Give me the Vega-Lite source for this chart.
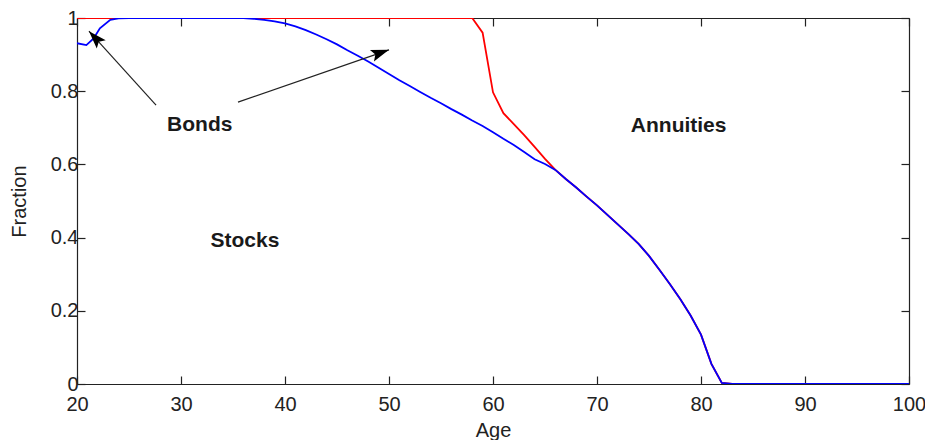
{
  "$schema": "https://vega.github.io/schema/vega-lite/v6.json",
  "width": 832,
  "height": 366,
  "autosize": {"type": "none"},
  "padding": {"left": 77, "top": 18, "right": 16, "bottom": 56},
  "background": "white",
  "config": {
    "view": {"stroke": null},
    "font": "Liberation Sans",
    "axis": {
      "grid": false,
      "domainColor": "#222",
      "domainWidth": 1.2,
      "tickColor": "#222",
      "tickWidth": 1.2,
      "tickSize": -8,
      "labelFont": "Liberation Sans",
      "labelFontSize": 20,
      "labelColor": "#222",
      "titleFont": "Liberation Sans",
      "titleFontSize": 20,
      "titleFontWeight": "normal",
      "titleColor": "#222",
      "labelFlush": false,
      "labelOverlap": false
    }
  },
  "datasets": {
    "lines": [
      {"age": 20, "series": "Stocks + Bonds", "fraction": 1}, {"age": 21, "series": "Stocks + Bonds", "fraction": 1},
      {"age": 22, "series": "Stocks + Bonds", "fraction": 1}, {"age": 23, "series": "Stocks + Bonds", "fraction": 1},
      {"age": 24, "series": "Stocks + Bonds", "fraction": 1}, {"age": 25, "series": "Stocks + Bonds", "fraction": 1},
      {"age": 26, "series": "Stocks + Bonds", "fraction": 1}, {"age": 27, "series": "Stocks + Bonds", "fraction": 1},
      {"age": 28, "series": "Stocks + Bonds", "fraction": 1}, {"age": 29, "series": "Stocks + Bonds", "fraction": 1},
      {"age": 30, "series": "Stocks + Bonds", "fraction": 1}, {"age": 31, "series": "Stocks + Bonds", "fraction": 1},
      {"age": 32, "series": "Stocks + Bonds", "fraction": 1}, {"age": 33, "series": "Stocks + Bonds", "fraction": 1},
      {"age": 34, "series": "Stocks + Bonds", "fraction": 1}, {"age": 35, "series": "Stocks + Bonds", "fraction": 1},
      {"age": 36, "series": "Stocks + Bonds", "fraction": 1}, {"age": 37, "series": "Stocks + Bonds", "fraction": 1},
      {"age": 38, "series": "Stocks + Bonds", "fraction": 1}, {"age": 39, "series": "Stocks + Bonds", "fraction": 1},
      {"age": 40, "series": "Stocks + Bonds", "fraction": 1}, {"age": 41, "series": "Stocks + Bonds", "fraction": 1},
      {"age": 42, "series": "Stocks + Bonds", "fraction": 1}, {"age": 43, "series": "Stocks + Bonds", "fraction": 1},
      {"age": 44, "series": "Stocks + Bonds", "fraction": 1}, {"age": 45, "series": "Stocks + Bonds", "fraction": 1},
      {"age": 46, "series": "Stocks + Bonds", "fraction": 1}, {"age": 47, "series": "Stocks + Bonds", "fraction": 1},
      {"age": 48, "series": "Stocks + Bonds", "fraction": 1}, {"age": 49, "series": "Stocks + Bonds", "fraction": 1},
      {"age": 50, "series": "Stocks + Bonds", "fraction": 1}, {"age": 51, "series": "Stocks + Bonds", "fraction": 1},
      {"age": 52, "series": "Stocks + Bonds", "fraction": 1}, {"age": 53, "series": "Stocks + Bonds", "fraction": 1},
      {"age": 54, "series": "Stocks + Bonds", "fraction": 1}, {"age": 55, "series": "Stocks + Bonds", "fraction": 1},
      {"age": 56, "series": "Stocks + Bonds", "fraction": 1}, {"age": 57, "series": "Stocks + Bonds", "fraction": 1},
      {"age": 58, "series": "Stocks + Bonds", "fraction": 1}, {"age": 59, "series": "Stocks + Bonds", "fraction": 0.96},
      {"age": 60, "series": "Stocks + Bonds", "fraction": 0.797}, {"age": 61, "series": "Stocks + Bonds", "fraction": 0.74},
      {"age": 62, "series": "Stocks + Bonds", "fraction": 0.71}, {"age": 63, "series": "Stocks + Bonds", "fraction": 0.68},
      {"age": 64, "series": "Stocks + Bonds", "fraction": 0.648}, {"age": 65, "series": "Stocks + Bonds", "fraction": 0.615},
      {"age": 66, "series": "Stocks + Bonds", "fraction": 0.585}, {"age": 67, "series": "Stocks + Bonds", "fraction": 0.56},
      {"age": 68, "series": "Stocks + Bonds", "fraction": 0.537}, {"age": 69, "series": "Stocks + Bonds", "fraction": 0.512},
      {"age": 70, "series": "Stocks + Bonds", "fraction": 0.488}, {"age": 71, "series": "Stocks + Bonds", "fraction": 0.462},
      {"age": 72, "series": "Stocks + Bonds", "fraction": 0.436}, {"age": 73, "series": "Stocks + Bonds", "fraction": 0.41},
      {"age": 74, "series": "Stocks + Bonds", "fraction": 0.383}, {"age": 75, "series": "Stocks + Bonds", "fraction": 0.35},
      {"age": 76, "series": "Stocks + Bonds", "fraction": 0.312}, {"age": 77, "series": "Stocks + Bonds", "fraction": 0.273},
      {"age": 78, "series": "Stocks + Bonds", "fraction": 0.232}, {"age": 79, "series": "Stocks + Bonds", "fraction": 0.187},
      {"age": 80, "series": "Stocks + Bonds", "fraction": 0.135}, {"age": 81, "series": "Stocks + Bonds", "fraction": 0.055},
      {"age": 82, "series": "Stocks + Bonds", "fraction": 0.003}, {"age": 83, "series": "Stocks + Bonds", "fraction": 0},
      {"age": 84, "series": "Stocks + Bonds", "fraction": 0}, {"age": 85, "series": "Stocks + Bonds", "fraction": 0},
      {"age": 86, "series": "Stocks + Bonds", "fraction": 0}, {"age": 87, "series": "Stocks + Bonds", "fraction": 0},
      {"age": 88, "series": "Stocks + Bonds", "fraction": 0}, {"age": 89, "series": "Stocks + Bonds", "fraction": 0},
      {"age": 90, "series": "Stocks + Bonds", "fraction": 0}, {"age": 91, "series": "Stocks + Bonds", "fraction": 0},
      {"age": 92, "series": "Stocks + Bonds", "fraction": 0}, {"age": 93, "series": "Stocks + Bonds", "fraction": 0},
      {"age": 94, "series": "Stocks + Bonds", "fraction": 0}, {"age": 95, "series": "Stocks + Bonds", "fraction": 0},
      {"age": 96, "series": "Stocks + Bonds", "fraction": 0}, {"age": 97, "series": "Stocks + Bonds", "fraction": 0},
      {"age": 98, "series": "Stocks + Bonds", "fraction": 0}, {"age": 99, "series": "Stocks + Bonds", "fraction": 0},
      {"age": 100, "series": "Stocks + Bonds", "fraction": 0},
      {"age": 20, "series": "Stocks", "fraction": 0.931}, {"age": 20.9, "series": "Stocks", "fraction": 0.926},
      {"age": 21.6, "series": "Stocks", "fraction": 0.944}, {"age": 22.2, "series": "Stocks", "fraction": 0.972},
      {"age": 23.2, "series": "Stocks", "fraction": 0.995}, {"age": 24, "series": "Stocks", "fraction": 0.999},
      {"age": 25, "series": "Stocks", "fraction": 1}, {"age": 26, "series": "Stocks", "fraction": 1},
      {"age": 27, "series": "Stocks", "fraction": 1}, {"age": 28, "series": "Stocks", "fraction": 1},
      {"age": 29, "series": "Stocks", "fraction": 1}, {"age": 30, "series": "Stocks", "fraction": 1},
      {"age": 31, "series": "Stocks", "fraction": 1}, {"age": 32, "series": "Stocks", "fraction": 1},
      {"age": 33, "series": "Stocks", "fraction": 1}, {"age": 34, "series": "Stocks", "fraction": 1},
      {"age": 35, "series": "Stocks", "fraction": 1}, {"age": 36, "series": "Stocks", "fraction": 1},
      {"age": 37, "series": "Stocks", "fraction": 0.998}, {"age": 38, "series": "Stocks", "fraction": 0.995},
      {"age": 39, "series": "Stocks", "fraction": 0.991}, {"age": 40, "series": "Stocks", "fraction": 0.985},
      {"age": 41, "series": "Stocks", "fraction": 0.977}, {"age": 42, "series": "Stocks", "fraction": 0.967},
      {"age": 43, "series": "Stocks", "fraction": 0.955}, {"age": 44, "series": "Stocks", "fraction": 0.942},
      {"age": 45, "series": "Stocks", "fraction": 0.928}, {"age": 46, "series": "Stocks", "fraction": 0.912},
      {"age": 47, "series": "Stocks", "fraction": 0.897}, {"age": 48, "series": "Stocks", "fraction": 0.881},
      {"age": 49, "series": "Stocks", "fraction": 0.864}, {"age": 50, "series": "Stocks", "fraction": 0.847},
      {"age": 51, "series": "Stocks", "fraction": 0.83}, {"age": 52, "series": "Stocks", "fraction": 0.814},
      {"age": 53, "series": "Stocks", "fraction": 0.798}, {"age": 54, "series": "Stocks", "fraction": 0.782},
      {"age": 55, "series": "Stocks", "fraction": 0.767}, {"age": 56, "series": "Stocks", "fraction": 0.751},
      {"age": 57, "series": "Stocks", "fraction": 0.736}, {"age": 58, "series": "Stocks", "fraction": 0.72},
      {"age": 59, "series": "Stocks", "fraction": 0.705}, {"age": 60, "series": "Stocks", "fraction": 0.688},
      {"age": 61, "series": "Stocks", "fraction": 0.67}, {"age": 62, "series": "Stocks", "fraction": 0.653},
      {"age": 63, "series": "Stocks", "fraction": 0.634}, {"age": 64, "series": "Stocks", "fraction": 0.614},
      {"age": 65, "series": "Stocks", "fraction": 0.601}, {"age": 66, "series": "Stocks", "fraction": 0.585},
      {"age": 67, "series": "Stocks", "fraction": 0.56}, {"age": 68, "series": "Stocks", "fraction": 0.537},
      {"age": 69, "series": "Stocks", "fraction": 0.512}, {"age": 70, "series": "Stocks", "fraction": 0.488},
      {"age": 71, "series": "Stocks", "fraction": 0.462}, {"age": 72, "series": "Stocks", "fraction": 0.436},
      {"age": 73, "series": "Stocks", "fraction": 0.41}, {"age": 74, "series": "Stocks", "fraction": 0.383},
      {"age": 75, "series": "Stocks", "fraction": 0.35}, {"age": 76, "series": "Stocks", "fraction": 0.312},
      {"age": 77, "series": "Stocks", "fraction": 0.273}, {"age": 78, "series": "Stocks", "fraction": 0.232},
      {"age": 79, "series": "Stocks", "fraction": 0.187}, {"age": 80, "series": "Stocks", "fraction": 0.135},
      {"age": 81, "series": "Stocks", "fraction": 0.055}, {"age": 82, "series": "Stocks", "fraction": 0.003},
      {"age": 83, "series": "Stocks", "fraction": 0}, {"age": 84, "series": "Stocks", "fraction": 0},
      {"age": 85, "series": "Stocks", "fraction": 0}, {"age": 86, "series": "Stocks", "fraction": 0},
      {"age": 87, "series": "Stocks", "fraction": 0}, {"age": 88, "series": "Stocks", "fraction": 0},
      {"age": 89, "series": "Stocks", "fraction": 0}, {"age": 90, "series": "Stocks", "fraction": 0},
      {"age": 91, "series": "Stocks", "fraction": 0}, {"age": 92, "series": "Stocks", "fraction": 0},
      {"age": 93, "series": "Stocks", "fraction": 0}, {"age": 94, "series": "Stocks", "fraction": 0},
      {"age": 95, "series": "Stocks", "fraction": 0}, {"age": 96, "series": "Stocks", "fraction": 0},
      {"age": 97, "series": "Stocks", "fraction": 0}, {"age": 98, "series": "Stocks", "fraction": 0},
      {"age": 99, "series": "Stocks", "fraction": 0}, {"age": 100, "series": "Stocks", "fraction": 0}
    ],
    "labels": [
      {"label": "Bonds", "age": 31.8, "fraction": 0.708},
      {"label": "Stocks", "age": 36.15, "fraction": 0.391},
      {"label": "Annuities", "age": 77.85, "fraction": 0.706}
    ],
    "arrows": [
      {"arrow": "left", "age": 27.6, "fraction": 0.762, "age_end": 21.15, "fraction_end": 0.964},
      {"arrow": "right", "age": 35.48, "fraction": 0.77, "age_end": 50.0, "fraction_end": 0.913}
    ]
  },
  "resolve": {"axis": {"x": "independent", "y": "independent"}},
  "layer": [
    {
      "data": {"name": "lines"},
      "transform": [{"filter": "datum.series === 'Stocks + Bonds'"}],
      "mark": {"type": "line", "color": "#ff0000", "strokeWidth": 1.8, "clip": true},
      "encoding": {
        "x": {"field": "age", "type": "quantitative", "scale": {"domain": [20, 100], "nice": false, "zero": false},
              "axis": {"orient": "bottom", "title": "Age", "values": [20, 30, 40, 50, 60, 70, 80, 90, 100], "labelPadding": 18, "titlePadding": 6}},
        "y": {"field": "fraction", "type": "quantitative", "scale": {"domain": [0, 1], "nice": false},
              "axis": {"orient": "left", "title": "Fraction", "values": [0, 0.2, 0.4, 0.6, 0.8, 1], "format": "~g", "labelPadding": 7, "titlePadding": 21}}
      }
    },
    {
      "data": {"name": "lines"},
      "transform": [{"filter": "datum.series === 'Stocks'"}],
      "mark": {"type": "line", "color": "#0000ff", "strokeWidth": 1.8, "clip": true},
      "encoding": {
        "x": {"field": "age", "type": "quantitative",
              "axis": {"orient": "top", "title": null, "labels": false, "values": [20, 30, 40, 50, 60, 70, 80, 90, 100]}},
        "y": {"field": "fraction", "type": "quantitative",
              "axis": {"orient": "right", "title": null, "labels": false, "values": [0, 0.2, 0.4, 0.6, 0.8, 1]}}
      }
    },
    {
      "data": {"name": "arrows"},
      "mark": {"type": "rule", "color": "#222", "strokeWidth": 1.2},
      "encoding": {
        "x": {"field": "age", "type": "quantitative", "axis": null},
        "y": {"field": "fraction", "type": "quantitative", "axis": null},
        "x2": {"field": "age_end"},
        "y2": {"field": "fraction_end"}
      }
    },
    {
      "data": {"name": "arrows"},
      "transform": [{"filter": "datum.arrow === 'left'"}],
      "mark": {"type": "point", "shape": "M0,0 L0.34,1 L0,0.8 L-0.34,1 Z", "size": 1300, "filled": true, "color": "#000", "opacity": 1, "angle": 317},
      "encoding": {
        "x": {"field": "age_end", "type": "quantitative", "axis": null},
        "y": {"field": "fraction_end", "type": "quantitative", "axis": null}
      }
    },
    {
      "data": {"name": "arrows"},
      "transform": [{"filter": "datum.arrow === 'right'"}],
      "mark": {"type": "point", "shape": "M0,0 L0.34,1 L0,0.8 L-0.34,1 Z", "size": 1300, "filled": true, "color": "#000", "opacity": 1, "angle": 71},
      "encoding": {
        "x": {"field": "age_end", "type": "quantitative", "axis": null},
        "y": {"field": "fraction_end", "type": "quantitative", "axis": null}
      }
    },
    {
      "data": {"name": "labels"},
      "mark": {"type": "text", "font": "Liberation Sans", "fontSize": 21, "fontWeight": "bold", "color": "#1a1a1a", "align": "center", "baseline": "middle"},
      "encoding": {
        "x": {"field": "age", "type": "quantitative", "axis": null},
        "y": {"field": "fraction", "type": "quantitative", "axis": null},
        "text": {"field": "label"}
      }
    }
  ]
}
